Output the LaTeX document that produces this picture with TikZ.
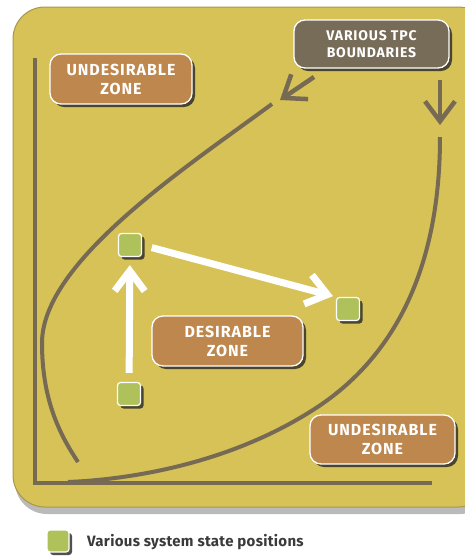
\documentclass[tikz,border=0pt]{standalone}
\usepackage{fontspec}
\setmainfont{Fira Sans}
\usetikzlibrary{arrows.meta,shadows}
\definecolor{bg}{HTML}{D6C257}
\definecolor{edgecol}{HTML}{A8974A}
\definecolor{axiscol}{HTML}{766A54}
\definecolor{zonecol}{HTML}{BE874E}
\definecolor{tpccol}{HTML}{776C58}
\definecolor{statecol}{HTML}{AEC15B}
\definecolor{legendcol}{HTML}{3A3A3A}
\begin{document}
\begin{tikzpicture}[x=1pt,y=-1pt,
  boxshadow/.style={drop shadow={shadow xshift=3pt,shadow yshift=-3pt,opacity=0.8,fill=black!85}},
  labelbox/.style={rounded corners=11pt, draw=white, line width=1.3pt, text=white,
    font={\fontsize{16}{19}\selectfont\bfseries\addfontfeature{LetterSpace=6}},
    align=center, inner sep=0pt, boxshadow},
  zonebox/.style={labelbox, fill=zonecol},
  tpcbox/.style={labelbox, fill=tpccol, font={\fontsize{14}{16.5}\selectfont\bfseries\addfontfeature{LetterSpace=6}}},
  statebox/.style={rectangle, rounded corners=3pt, fill=statecol, draw=white, line width=1.2pt,
    minimum size=23pt, inner sep=0pt, boxshadow},
  axisline/.style={draw=axiscol, line width=4.5pt},
  boundary/.style={draw=axiscol, line width=4pt},
  greyarrow/.style={draw=axiscol, line width=4.5pt, -{Straight Barb[length=20pt,width=30pt]}},
  whitearrow/.style={draw=white, line width=7pt, -{Straight Barb[length=20pt,width=30pt]}}
]
\useasboundingbox (0,0) rectangle (465,558);
% background panel
\path[fill=bg, draw=edgecol, line width=1pt, rounded corners=32pt,
  drop shadow={shadow xshift=2pt,shadow yshift=-7pt,opacity=0.45,fill=black!60}]
  (13,7) rectangle (490,507);

% axes
\coordinate (ytop) at (35,58);
\coordinate (origin) at (35,483);
\coordinate (xend) at (432,483);
\draw[axisline] (ytop) -- (origin) -- (xend);

% boundaries
\draw[boundary] (272,104) .. controls (185,168) and (42,262) .. (42,343)
  .. controls (42,400) and (60,435) .. (78,462);
\draw[boundary] (440,137) .. controls (440,260) and (400,350) .. (322,404)
  .. controls (240,460) and (140,479) .. (68,482);

% labels
\node[zonebox, minimum width=142pt, minimum height=50pt] (uz1) at (121,79) {UNDESIRABLE\\ZONE};
\node[tpcbox, minimum width=155pt, minimum height=48pt] (tpc) at (371.5,44) {VARIOUS TPC\\BOUNDARIES};
\node[zonebox, minimum width=151pt, minimum height=50pt] (dz) at (227.5,341) {DESIRABLE\\ZONE};
\node[zonebox, minimum width=145pt, minimum height=49pt] (uz2) at (382.5,439.5) {UNDESIRABLE\\ZONE};

% tpc arrows
\coordinate (g1s) at (314,77);
\coordinate (g1e) at (280,100);
\coordinate (g2s) at (440,80);
\coordinate (g2e) at (440,125);
\draw[greyarrow] (g1s) -- (g1e);
\draw[greyarrow] (g2s) -- (g2e);

% states
\node[statebox] (s1) at (130,245) {};
\node[statebox] (s2) at (348,309) {};
\node[statebox] (s3) at (129,394) {};

\draw[whitearrow, shorten <=9pt, shorten >=8pt] (s3) -- (s1);
\draw[whitearrow, shorten <=10pt, shorten >=3pt] (s1.east) -- (s2.north west);

% legend
\node[statebox, minimum size=22pt] (ls) at (58,541) {};
\node[anchor=west, inner sep=0pt, text=legendcol, font={\fontsize{15}{18}\selectfont\bfseries\addfontfeature{LetterSpace=2}}] (lt) at (87,542) {Various system state positions};
\end{tikzpicture}
\end{document}
